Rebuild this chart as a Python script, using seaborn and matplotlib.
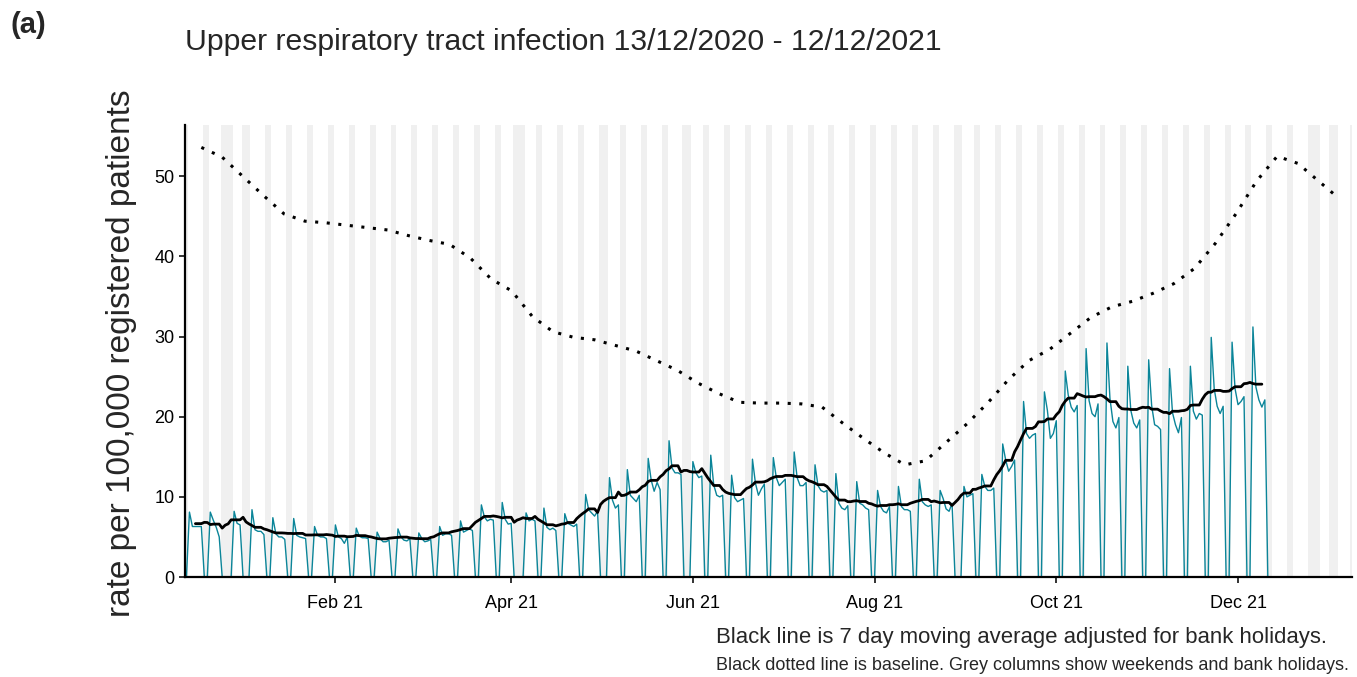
import matplotlib
matplotlib.use('Agg')
import matplotlib.pyplot as plt
import matplotlib.dates as mdates
import seaborn as sns
import pandas as pd
import numpy as np

# daily series runs Sun 13/12/2020 -> Sun 12/12/2021
start_date = "2020-12-13"
end_date = "2021-12-12"
bank_holidays = ["2020-12-25", "2020-12-28", "2021-01-01", "2021-04-02", "2021-04-05",
                 "2021-05-03", "2021-05-31", "2021-08-30", "2021-12-27", "2021-12-28",
                 "2022-01-03"]

# Mon..Fri rates for each week starting Mon 14/12/2020 (0 on bank holidays)
weekday_rates = [
    [8.1, 6.3, 6.3, 6.3, 6.3],
    [8.1, 7.1, 6.2, 5.0, 0.0],
    [0.0, 8.2, 6.7, 6.5, 0.0],
    [8.4, 5.9, 5.7, 5.7, 5.3],
    [7.4, 5.4, 5.0, 5.0, 4.7],
    [7.3, 5.2, 5.0, 4.9, 4.8],
    [6.3, 5.2, 5.0, 5.0, 4.8],
    [6.5, 5.0, 4.8, 4.2, 5.0],
    [6.1, 5.1, 4.9, 4.9, 4.8],
    [5.6, 4.8, 4.4, 4.4, 4.6],
    [6.0, 5.0, 4.6, 4.5, 4.8],
    [5.5, 4.8, 4.4, 4.5, 4.7],
    [6.3, 5.2, 5.4, 5.4, 5.2],
    [7.0, 5.6, 5.8, 6.0, 5.8],
    [9.0, 7.5, 7.0, 7.2, 7.1],
    [9.3, 7.2, 6.6, 6.7, 0.0],
    [0.0, 8.0, 7.0, 7.2, 7.0],
    [8.6, 6.2, 5.9, 6.1, 5.8],
    [7.9, 6.7, 6.5, 6.3, 6.6],
    [10.3, 8.4, 8.0, 7.6, 8.2],
    [0.0, 12.4, 9.6, 8.6, 9.0],
    [13.4, 10.2, 9.8, 9.4, 10.2],
    [14.8, 12.1, 10.7, 11.8, 10.9],
    [17.0, 13.6, 13.0, 13.0, 12.8],
    [0.0, 14.4, 13.0, 12.4, 12.6],
    [15.2, 11.5, 10.2, 10.0, 10.2],
    [12.7, 9.9, 9.4, 9.6, 9.8],
    [14.7, 11.7, 10.2, 11.0, 11.6],
    [14.9, 12.4, 11.4, 11.8, 12.2],
    [15.6, 12.4, 11.4, 11.4, 11.8],
    [14.0, 11.4, 10.8, 10.6, 10.8],
    [12.9, 9.2, 8.6, 8.4, 8.9],
    [11.9, 9.2, 9.0, 8.6, 8.4],
    [10.8, 8.8, 8.2, 8.0, 8.8],
    [11.3, 8.8, 8.4, 8.4, 8.2],
    [12.2, 9.4, 9.0, 8.8, 9.0],
    [10.8, 9.8, 8.5, 8.2, 9.2],
    [0.0, 11.3, 10.0, 10.2, 10.4],
    [12.8, 11.3, 10.8, 10.8, 11.1],
    [16.6, 14.6, 13.2, 13.8, 14.6],
    [21.9, 17.9, 17.3, 17.7, 17.9],
    [23.1, 20.8, 17.3, 17.9, 19.5],
    [25.7, 22.7, 21.2, 20.6, 21.4],
    [28.5, 22.0, 20.4, 20.0, 21.6],
    [29.2, 22.3, 19.4, 18.6, 19.9],
    [26.3, 20.8, 19.2, 18.6, 19.6],
    [27.1, 21.4, 19.0, 18.8, 18.4],
    [26.0, 20.5, 19.0, 18.0, 19.9],
    [26.3, 20.7, 19.7, 20.4, 20.2],
    [29.9, 23.5, 21.3, 20.4, 21.3],
    [29.3, 23.5, 21.5, 21.9, 22.5],
    [31.2, 23.7, 22.1, 21.2, 22.1],
]

# baseline, roughly weekly from 18/12/2020 to 04/01/2022
baseline_start = "2020-12-18"
baseline_end = "2022-01-04"
baseline = [53.6, 52.4, 50.0, 47.6, 45.3, 44.4, 44.2, 43.9, 43.6, 43.3,
            42.6, 42.0, 41.5, 39.8, 37.2, 35.7, 32.5, 30.6, 29.9, 29.6,
            28.9, 28.2, 27.0, 25.8, 24.2, 22.9, 21.8, 21.7, 21.7, 21.6,
            21.2, 19.2, 17.3, 15.5, 14.0, 14.5, 16.8, 19.1, 21.7, 24.6,
            27.0, 28.4, 30.4, 32.4, 33.7, 34.4, 35.4, 36.6, 38.5, 41.6,
            45.3, 49.4, 52.5, 51.6, 49.4, 47.2]

x_min = "2020-12-12 12:00"
x_max = "2022-01-08 06:00"

# build daily frame
days = pd.date_range(start_date, end_date, freq="D")
vals = [0.0]
for wk in weekday_rates:
    vals += wk + [0.0, 0.0]
df = pd.DataFrame({"date": days, "rate": vals})
bh = pd.to_datetime(bank_holidays)
df["working"] = (df["date"].dt.weekday < 5) & (~df["date"].isin(bh))

# 7 day moving average over working days only
num = df["rate"].rolling(7, center=True).sum()
den = df["working"].astype(float).rolling(7, center=True).sum()
df["ma"] = num / den

base_df = pd.DataFrame({
    "date": pd.date_range(baseline_start, baseline_end, periods=len(baseline)),
    "baseline": baseline,
})

sns.set_theme(style="ticks")
plt.rcParams['font.family'] = ['Liberation Sans', 'DejaVu Sans']

fig = plt.figure(figsize=(13.57, 6.77), dpi=100)
ax = fig.add_axes([0.1363, 0.1477, 0.86, 0.6677])

# grey columns for weekends + bank holidays
all_days = pd.date_range("2020-12-11", "2022-01-09", freq="D")
for d in all_days:
    if d.weekday() >= 5 or d in bh:
        ax.axvspan(d - pd.Timedelta(hours=12), d + pd.Timedelta(hours=12),
                   color="#F0F0F0", lw=0, zorder=0)

sns.lineplot(data=df, x="date", y="rate", ax=ax, color="#0B8599", linewidth=1.0)
sns.lineplot(data=df.dropna(subset=["ma"]), x="date", y="ma", ax=ax,
             color="black", linewidth=2.0)
sns.lineplot(data=base_df, x="date", y="baseline", ax=ax, color="black",
             linewidth=2.2, linestyle=(0, (1, 2.8)))

ax.set_xlim(pd.Timestamp(x_min), pd.Timestamp(x_max))
ax.set_ylim(0, 56.4)
ax.set_yticks([0, 10, 20, 30, 40, 50])
ax.xaxis.set_major_locator(mdates.MonthLocator(bymonth=[2, 4, 6, 8, 10, 12]))
ax.xaxis.set_major_formatter(mdates.DateFormatter("%b %y"))
ax.set_xlabel("")
ax.set_ylabel("")
ax.tick_params(axis="both", labelsize=13, colors="#333333", length=4, width=1.4,
               labelcolor="black")
ax.tick_params(axis="x", pad=9)
for s in ["top", "right"]:
    ax.spines[s].set_visible(False)
for s in ["left", "bottom"]:
    ax.spines[s].set_color("black")
    ax.spines[s].set_linewidth(1.6)

fig.text(122 / 1357, 1 - 353 / 677, "rate per 100,000 registered patients",
         rotation=90, ha="center", va="center", fontsize=24)
fig.text(185 / 1357, 1 - 42 / 677, "Upper respiratory tract infection 13/12/2020 - 12/12/2021",
         ha="left", va="center", fontsize=21.7)
fig.text(10 / 1357, 1 - 25 / 677, "(a)", ha="left", va="center", fontsize=21,
         fontweight="bold")
fig.text(716 / 1357, 1 - 638 / 677,
         "Black line is 7 day moving average adjusted for bank holidays.",
         ha="left", va="center", fontsize=15.9)
fig.text(716 / 1357, 1 - 665 / 677,
         "Black dotted line is baseline. Grey columns show weekends and bank holidays.",
         ha="left", va="center", fontsize=13.0)

plt.savefig("out.png", dpi=100)
plt.close()
